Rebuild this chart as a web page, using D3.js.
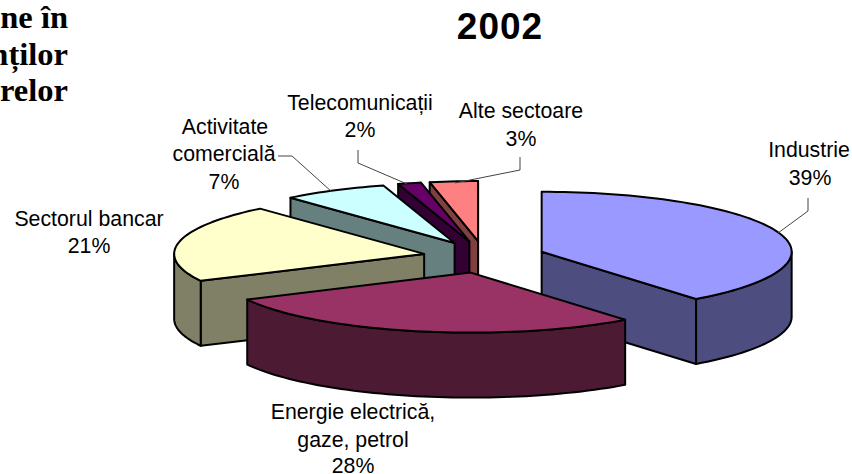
<!DOCTYPE html>
<html>
<head>
<meta charset="utf-8">
<script src="https://cdn.jsdelivr.net/npm/d3@7"></script>
<style>
  html, body { margin: 0; padding: 0; background: #fff; overflow: hidden; }
  text { font-family: "Liberation Sans", Arial, sans-serif; fill: #000; }
</style>
</head>
<body>
<script>
// Values (labels are the rounded shares)
const categories = ["Industrie", "Energie electrică, gaze, petrol", "Sectorul bancar", "Activitate comercială", "Telecomunicații", "Alte sectoare"];
const values = [39.4, 28.2, 21.0, 6.8, 1.5, 3.1];
const topColors = ["#9999ff", "#993366", "#ffffcc", "#ccffff", "#660066", "#ff8080"];
const sideColors = ["#4d4d80", "#4d1a33", "#808066", "#668080", "#330033", "#804040"];
const drawOrder = [5, 4, 3, 2, 0, 1]; // back to front

const width = 852;
const height = 474;
const center = { x: 484, y: 257 };
const rx = 250, ry = 60, depth = 65;
const explodeX = 61, explodeY = 16;

const svg = d3.select("body").append("svg")
    .attr("width", width)
    .attr("height", height);

// unit circle -> flattened pie plane
const xScale = d3.scaleLinear().domain([-1, 1]).range([-rx, rx]);
const yScale = d3.scaleLinear().domain([-1, 1]).range([-ry, ry]);

const slices = d3.pie().sort(null).value(d => d)(values);
const line = d3.line();

function rim(d, a) {
    return [d.ox + xScale(Math.sin(a)), d.oy + yScale(-Math.cos(a))];
}

function arcPoints(d, a0, a1) {
    const n = Math.max(2, Math.ceil((a1 - a0) / 0.03));
    return d3.range(n + 1).map(i => rim(d, a0 + (a1 - a0) * i / n));
}

function face(g, pts, fill) {
    g.append("path")
        .attr("d", line(pts) + "Z")
        .attr("fill", fill)
        .attr("stroke", "#000")
        .attr("stroke-width", 2)
        .attr("stroke-linejoin", "round");
}

const down = p => [p[0], p[1] + depth];

slices.forEach(d => {
    const mid = (d.startAngle + d.endAngle) / 2;
    d.ox = center.x + xScale(Math.sin(mid) * explodeX / rx);
    d.oy = center.y + yScale(-Math.cos(mid) * explodeY / ry);
});

drawOrder.forEach(i => {
    const d = slices[i];
    const g = svg.append("g");
    const apex = [d.ox, d.oy];
    const side = sideColors[i];

    // radial walls that face the viewer
    if (Math.sin(d.startAngle) < 0) {
        const p = rim(d, d.startAngle);
        face(g, [apex, p, down(p), down(apex)], side);
    }
    if (Math.sin(d.endAngle) > 0) {
        const p = rim(d, d.endAngle);
        face(g, [apex, p, down(p), down(apex)], side);
    }
    // outer wall, only the near half of the rim shows
    const a0 = Math.max(d.startAngle, Math.PI / 2);
    const a1 = Math.min(d.endAngle, Math.PI * 1.5);
    if (a1 > a0) {
        const pts = arcPoints(d, a0, a1);
        face(g, pts.concat(pts.map(down).reverse()), side);
    }
    // top
    face(g, [apex].concat(arcPoints(d, d.startAngle, d.endAngle)), topColors[i]);
});

// Leader lines
const leaders = [
    [[808, 198], [808, 211], [778, 233]],
    [[358, 150], [358, 163], [407, 184]],
    [[520, 157], [520, 170], [455, 183]],
    [[278, 156], [292, 156], [332, 192]]
];
svg.selectAll(".leader")
    .data(leaders)
    .enter().append("path")
    .attr("class", "leader")
    .attr("d", d => line(d))
    .attr("fill", "none")
    .attr("stroke", "#444")
    .attr("stroke-width", 1);

// Data labels
const pct = i => d3.format(".0f")(values[i]) + "%";
const labels = [
    { lines: [categories[0], pct(0)], x: [809, 810], y: [157, 185] },
    { lines: ["Energie electrică,", "gaze, petrol", pct(1)], x: [353, 353, 353], y: [419, 447, 473] },
    { lines: [categories[2], pct(2)], x: [89, 89], y: [226, 253] },
    { lines: ["Activitate", "comercială", pct(3)], x: [225, 224, 224], y: [134, 161, 189] },
    { lines: [categories[4], pct(4)], x: [360, 360], y: [110, 137] },
    { lines: [categories[5], pct(5)], x: [521, 521], y: [118, 146] }
];
labels.forEach(l => {
    l.lines.forEach((t, j) => {
        svg.append("text")
            .attr("x", l.x[j])
            .attr("y", l.y[j])
            .attr("text-anchor", "middle")
            .attr("font-size", 21.3)
            .text(t);
    });
});

// Title
svg.append("text")
    .attr("x", 500)
    .attr("y", 39)
    .attr("text-anchor", "middle")
    .attr("font-size", 37)
    .attr("font-weight", "bold")
    .attr("letter-spacing", 1)
    .text("2002");

// Cut-off slide text on the left
const sideText = ["ne în", "nților", "relor"];
svg.selectAll(".side")
    .data(sideText)
    .enter().append("text")
    .attr("class", "side")
    .attr("x", 68)
    .attr("y", (d, i) => [28, 65, 101][i])
    .attr("text-anchor", "end")
    .attr("font-size", 32.5)
    .attr("font-weight", "bold")
    .style("font-family", "'Liberation Serif', serif")
    .text(d => d);
</script>
</body>
</html>
